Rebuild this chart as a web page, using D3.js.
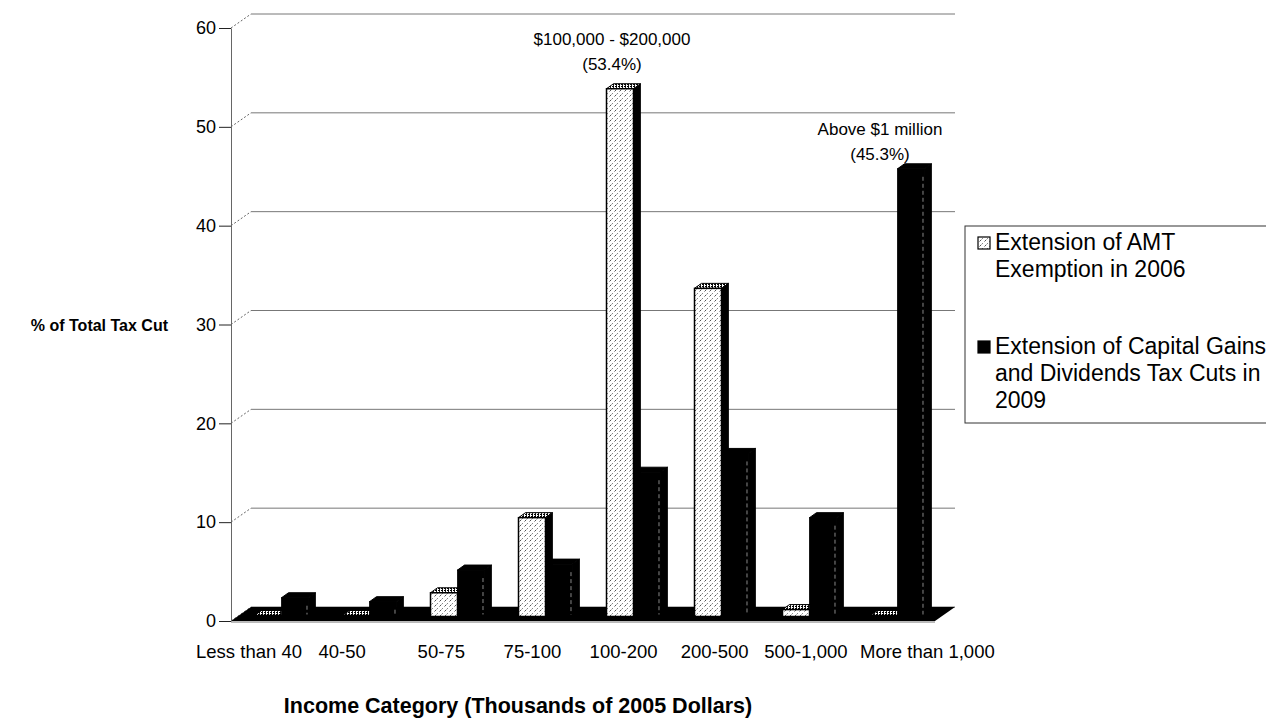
<!DOCTYPE html>
<html><head><meta charset="utf-8">
<script src="https://cdn.jsdelivr.net/npm/d3@7"></script>
<style>body{margin:0;background:#fff}svg{display:block;font-family:"Liberation Sans",Arial,Helvetica,sans-serif}</style>
</head><body><svg id="c" width="1266" height="724"></svg>
<script>
// ---------- data ----------
const categories = ["Less than 40","40-50","50-75","75-100","100-200","200-500","500-1,000","More than 1,000"];
const seriesKeys = ["amt","capgains"];
const amtValues = [0.1,0.1,2.4,10.0,53.4,33.2,0.7,0.1];
const capGainsValues = [1.9,1.5,4.7,5.3,14.6,16.5,10.0,45.3];
const yTicks = [0,10,20,30,40,50,60];
const legendLines = [["Extension of AMT","Exemption in 2006"],["Extension of Capital Gains","and Dividends Tax Cuts in","2009"]];
const annotationCats = ["100-200","More than 1,000"];
const annotationSeries = [0,1];
const annotationLines = [["$100,000 - $200,000","(53.4%)"],["Above $1 million","(45.3%)"]];
const yTitle = "% of Total Tax Cut";
const xTitle = "Income Category (Thousands of 2005 Dollars)";

// ---------- layout ----------
const svg = d3.select("#c");
const X0 = 231, X1 = 935, Y0 = 621, YT = 28;
const DX = 20, DY = -14;      // floor / wall depth
const bdx = 7, bdy = -5;      // bar depth
const offx = (DX - bdx) / 2, offy = (DY - bdy) / 2;

const y = d3.scaleLinear().domain([0, 60]).range([Y0, YT]);
const x = d3.scaleBand().domain(categories).range([X0, X1]);
const xs = d3.scaleBand().domain(d3.range(seriesKeys.length)).range([0, x.bandwidth()]).paddingOuter(0.63).paddingInner(0);
const xLabel = d3.scalePoint().domain(categories).range([259, 897]);

const defs = svg.append("defs");
const stip = defs.append("pattern").attr("id","stip").attr("patternUnits","userSpaceOnUse").attr("width",5).attr("height",5);
stip.append("rect").attr("width",5).attr("height",5).attr("fill","#fff");
stip.append("rect").attr("x",0).attr("y",0).attr("width",1).attr("height",1).attr("fill","#555");
stip.append("rect").attr("x",2).attr("y",3).attr("width",1).attr("height",1).attr("fill","#888");
stip.append("rect").attr("x",4).attr("y",1).attr("width",1).attr("height",1).attr("fill","#aaa");
stip.append("rect").attr("x",1).attr("y",4).attr("width",1).attr("height",1).attr("fill","#bbb");
const topPat = defs.append("pattern").attr("id","topPat").attr("patternUnits","userSpaceOnUse").attr("width",3).attr("height",2);
topPat.append("rect").attr("width",3).attr("height",2).attr("fill","#fff");
topPat.append("rect").attr("x",0).attr("y",0).attr("width",2).attr("height",1).attr("fill","#000");
topPat.append("rect").attr("x",1).attr("y",1).attr("width",1).attr("height",1).attr("fill","#222");

// back wall gridlines + side wall diagonals
const grid = svg.append("g");
grid.selectAll("line.g").data(yTicks).join("line").attr("class","g")
  .attr("x1", X0 + DX).attr("x2", X1 + DX)
  .attr("y1", d => y(d) + DY).attr("y2", d => y(d) + DY)
  .attr("stroke", "#777").attr("stroke-width", 1);
grid.selectAll("line.d").data(yTicks).join("line").attr("class","d")
  .attr("x1", X0).attr("x2", X0 + DX)
  .attr("y1", d => y(d)).attr("y2", d => y(d) + DY)
  .attr("stroke", "#666").attr("stroke-width", 1).attr("stroke-dasharray","2,2");

// floor
svg.append("polygon")
  .attr("points", [[X0, Y0],[X1, Y0],[X1 + DX, Y0 + DY],[X0 + DX, Y0 + DY]].map(p => p.join(",")).join(" "))
  .attr("fill", "#000");

// y axis
const yAxis = svg.append("g").attr("transform", `translate(${X0},0)`)
  .call(d3.axisLeft(y).tickValues(yTicks).tickSize(12).tickPadding(3).tickSizeOuter(0));
yAxis.select(".domain").attr("stroke", "#666");
yAxis.selectAll(".tick line").attr("stroke", "#222");
yAxis.selectAll(".tick text").attr("font-size", 18).attr("font-family", "Liberation Sans, Arial, sans-serif").attr("fill","#000");
svg.append("line").attr("x1", X0).attr("x2", X1).attr("y1", Y0 + 1).attr("y2", Y0 + 1).attr("stroke", "#777");

// bars
const barData = [];
categories.forEach((c, i) => {
  barData.push({c, s: 0, v: amtValues[i]});
  barData.push({c, s: 1, v: capGainsValues[i]});
});
const bars = svg.append("g");
barData.forEach(d => {
  const w = xs.bandwidth();
  const fx = x(d.c) + xs(d.s) + offx;
  const fyb = y(0) + offy, fyt = y(d.v) + offy;
  const g = bars.append("g");
  const pts = a => a.map(p => p.join(",")).join(" ");
  g.append("polygon").attr("points", pts([[fx + w, fyt],[fx + w + bdx, fyt + bdy],[fx + w + bdx, fyb + bdy],[fx + w, fyb]]))
    .attr("fill", "#000").attr("stroke","#000").attr("stroke-width",0.8);
  g.append("polygon").attr("points", pts([[fx, fyt],[fx + w, fyt],[fx + w + bdx, fyt + bdy],[fx + bdx, fyt + bdy]]))
    .attr("fill", d.s === 0 ? "url(#topPat)" : "#000").attr("stroke", "#000").attr("stroke-width", 1);
  g.append("rect").attr("x", fx).attr("y", fyt).attr("width", w).attr("height", Math.max(0.5, fyb - fyt))
    .attr("fill", d.s === 0 ? "url(#stip)" : "#000").attr("stroke", "#000").attr("stroke-width", d.s === 0 ? 1.5 : 0.8);
  if (d.s === 1 && fyb - fyt > 12) {
    g.append("line").attr("x1", fx + w - 1.5).attr("x2", fx + w - 1.5).attr("y1", fyt + 8).attr("y2", fyb - 2)
      .attr("stroke", "#888").attr("stroke-width", 1).attr("stroke-dasharray", "4,3");
  }
});

// category labels
const lab = svg.append("g").attr("font-size", 18.5).attr("fill", "#000");
const last = categories.length - 1;
lab.selectAll("text").data(categories).join("text")
  .attr("x", (d, i) => i === 0 ? xLabel(d) + 43 : (i === last ? xLabel(d) - 37 : (i === 1 ? xLabel(d) - 8 : xLabel(d))))
  .attr("y", Y0 + 37)
  .attr("text-anchor", (d, i) => i === 0 ? "end" : (i === last ? "start" : "middle"))
  .text(d => d);

// annotations
annotationCats.forEach((c, k) => {
  const s = annotationSeries[k];
  const v = (s === 0 ? amtValues : capGainsValues)[categories.indexOf(c)];
  const cx = x(c) + xs(s) + offx + xs.bandwidth() / 2 + (k === 0 ? -8 : -31);
  const topY = y(v) + offy + bdy;
  const lines = annotationLines[k];
  lines.forEach((t, j) => {
    svg.append("text").attr("x", cx).attr("y", topY - (k === 0 ? 14 : 4) - (lines.length - 1 - j) * 25)
      .attr("text-anchor", "middle").attr("font-size", 17).text(t);
  });
});

// axis titles
svg.append("text").attr("x", 168).attr("y", y(30) + 6).attr("text-anchor", "end")
  .attr("font-size", 16).attr("font-weight", "bold").text(yTitle);
svg.append("text").attr("x", 518).attr("y", 713).attr("text-anchor", "middle")
  .attr("font-size", 21.5).attr("font-weight", "bold").text(xTitle);

// legend
const lg = svg.append("g");
lg.append("rect").attr("x", 965).attr("y", 226).attr("width", 340).attr("height", 197)
  .attr("fill", "#fff").attr("stroke", "#333").attr("stroke-width", 1);
const legY = [250, 354];
legendLines.forEach((ls, k) => {
  lg.append("rect").attr("x", 978).attr("y", legY[k] - 13).attr("width", 12).attr("height", 12)
    .attr("fill", k === 0 ? "url(#stip)" : "#000").attr("stroke", "#000").attr("stroke-width", 1.2);
  ls.forEach((t, j) => {
    lg.append("text").attr("x", 995).attr("y", legY[k] + j * 27).attr("font-size", 23).text(t);
  });
});
</script></body></html>
